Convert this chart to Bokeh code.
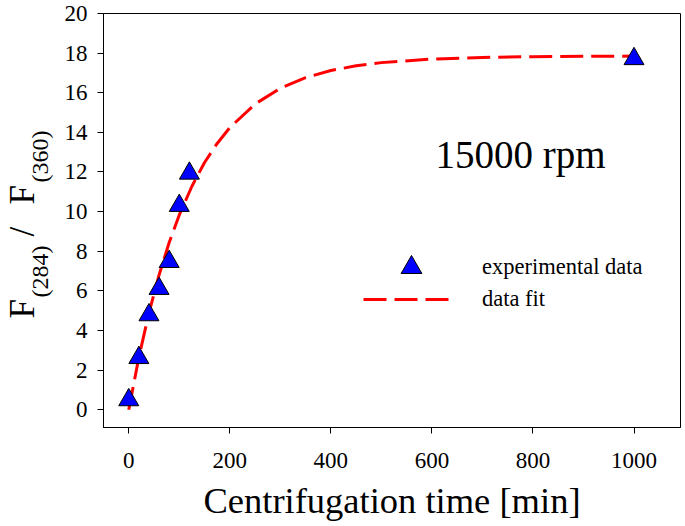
from math import pi
from bokeh.plotting import figure
from bokeh.layouts import row
from bokeh.models import Range1d, Label, Legend, LegendItem, FixedTicker
from bokeh.embed import file_html
from bokeh.resources import INLINE

# experimental data
time_min = [0, 20, 40, 60, 80, 100, 120, 1000]
ratio = [0.49, 2.62, 4.78, 6.11, 7.47, 10.3, 11.93, 17.71]

# fitted curve
fit_time = [0, 20, 40, 60, 80, 100, 125, 150, 175, 200, 250, 300, 350, 400,
            450, 500, 600, 700, 800, 900, 1000]
fit_ratio = [0.0, 2.64, 4.89, 6.80, 8.44, 9.83, 11.28, 12.48, 13.44, 14.24,
             15.43, 16.23, 16.76, 17.12, 17.36, 17.52, 17.70, 17.78, 17.82,
             17.84, 17.85]

x_ticks = [0, 200, 400, 600, 800, 1000]
y_ticks = [0, 2, 4, 6, 8, 10, 12, 14, 16, 18, 20]

SERIF = "Liberation Serif"

p = figure(frame_width=577, frame_height=414,
           x_range=Range1d(-50, 1092), y_range=Range1d(-0.9, 20),
           output_backend="svg", toolbar_location=None,
           min_border_left=43, min_border_right=4, min_border_top=13,
           min_border_bottom=98)
p.grid.visible = False
p.outline_line_color = "black"
p.outline_line_width = 1
p.background_fill_color = "white"
p.border_fill_color = "white"

for ax in (p.xaxis[0], p.yaxis[0]):
    ax.axis_line_color = "black"
    ax.axis_line_width = 1
    ax.major_tick_line_color = "black"
    ax.major_tick_out = 6
    ax.major_tick_in = 0
    ax.minor_tick_line_color = None
    ax.major_label_text_font = SERIF
    ax.major_label_text_font_size = "23px"
    ax.major_label_text_color = "black"

p.xaxis[0].ticker = FixedTicker(ticks=x_ticks)
p.yaxis[0].ticker = FixedTicker(ticks=y_ticks)
p.xaxis[0].major_label_standoff = 19
p.yaxis[0].major_label_standoff = 10

p.xaxis[0].axis_label = "Centrifugation time [min]"
p.xaxis[0].axis_label_text_font = SERIF
p.xaxis[0].axis_label_text_font_size = "36.5px"
p.xaxis[0].axis_label_text_font_style = "normal"
p.xaxis[0].axis_label_text_color = "black"
p.xaxis[0].axis_label_standoff = 9

line_r = p.line(fit_time, fit_ratio, line_color="#FF0000", line_width=3,
                line_dash="23 8")
pts_r = p.scatter(time_min, ratio, marker="triangle", size=20,
                  fill_color="#0000FF", line_color="black", line_width=1)

leg1 = Legend(items=[LegendItem(label="experimental data", renderers=[pts_r])],
              location=(264, 134), glyph_width=88, glyph_height=52,
              label_standoff=27, padding=0, margin=0, spacing=0,
              border_line_alpha=0, background_fill_alpha=0,
              label_text_font=SERIF, label_text_font_size="22.5px",
              label_text_color="black")
leg2 = Legend(items=[LegendItem(label="data fit", renderers=[line_r])],
              location=(260, 113), glyph_width=86, glyph_height=30,
              label_standoff=33, padding=0, margin=0, spacing=0,
              border_line_alpha=0, background_fill_alpha=0,
              label_text_font=SERIF, label_text_font_size="22.5px",
              label_text_color="black")
p.add_layout(leg1)
p.add_layout(leg2)

p.add_layout(Label(x=332, y=273, x_units="screen", y_units="screen",
                   text="15000 rpm", text_font=SERIF, text_font_size="39px",
                   text_color="black", text_baseline="alphabetic"))

# narrow panel that carries the y axis title with subscripts
t = figure(width=60, height=525, x_range=Range1d(0, 1), y_range=Range1d(0, 1),
           x_axis_type=None, y_axis_type=None, output_backend="svg",
           toolbar_location=None, min_border=0)
t.outline_line_color = None
t.grid.visible = False
t.background_fill_color = "white"
t.border_fill_color = "white"

ypieces = [("F", "35px", 22, 109),
           ("(284)", "24px", 39, 130),
           ("/", "35px", 22, 191),
           ("F", "35px", 22, 223),
           ("(360)", "24px", 39, 245)]
for txt, fs, xx, yy in ypieces:
    t.add_layout(Label(x=xx, y=yy, x_units="screen", y_units="screen",
                       text=txt, text_font=SERIF, text_font_size=fs,
                       text_color="black", angle=pi / 2,
                       text_align="left", text_baseline="alphabetic"))

layout = row(t, p, spacing=0)
open("out.html", "w").write(file_html(layout, INLINE))
